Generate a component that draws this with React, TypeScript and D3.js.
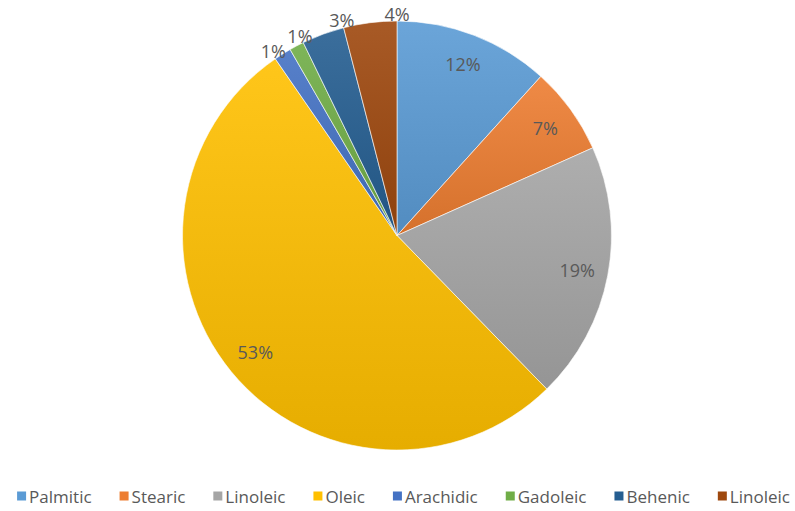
import React, { useMemo } from "react";
import * as d3 from "d3";

const categories = ["Palmitic", "Stearic", "Linoleic", "Oleic", "Arachidic", "Gadoleic", "Behenic", "Linoleic"];
const values = [11.7, 6.6, 19.4, 52.7, 1.3, 1.1, 3.2, 4.0];
const colors = ["#5B9BD5", "#ED7D31", "#A5A5A5", "#FFC000", "#4472C4", "#70AD47", "#255E91", "#9E480E"];

const W = 795;
const H = 511;
const FONT = "'Open Sans', 'Noto Sans', sans-serif";

function measure(text: string, size: number) {
  if (typeof document === "undefined") return text.length * size * 0.5;
  const c = document.createElement("canvas").getContext("2d")!;
  c.font = `${size}px 'Open Sans'`;
  return c.measureText(text).width;
}

export default function App() {
  const cx = 397;
  const cy = 235.5;
  const r = 214.5;
  const total = d3.sum(values);

  const arcs = useMemo(
    () =>
      d3
        .pie<number>()
        .sort(null)
        .value((d) => d)(values),
    []
  );
  const arcGen = d3.arc<d3.PieArcDatum<number>>().innerRadius(0).outerRadius(r);

  const labelSize = 18;
  const labelH = 15;
  const labels = arcs.map((a, i) => {
    const text = `${Math.round((values[i] / total) * 100)}%`;
    const w = measure(text, labelSize);
    const pct = values[i] / total;
    const outside = pct < 0.05;
    const ang = outside ? a.endAngle : (a.startAngle + a.endAngle) / 2;
    const rr = outside ? r + 7.5 : r * 0.855;
    return { text, w, outside, ang, rr, x: 0, y: 0 };
  });
  const pos = (ang: number, rr: number) => [cx + rr * Math.sin(ang), cy - rr * Math.cos(ang)];
  for (const l of labels) {
    const [x, y] = pos(l.ang, l.rr);
    l.x = x;
    l.y = y;
  }
  // resolve overlaps among outside labels: move earlier ones counter-clockwise
  for (let i = labels.length - 2; i >= 0; i--) {
    const l = labels[i];
    const n = labels[i + 1];
    if (!l.outside || !n.outside) continue;
    let guard = 0;
    while (
      Math.abs(l.x - n.x) < (l.w + n.w) / 2 &&
      Math.abs(l.y - n.y) < labelH &&
      guard++ < 200
    ) {
      l.ang -= Math.PI / 360;
      const [x, y] = pos(l.ang, l.rr);
      l.x = x;
      l.y = y;
    }
  }

  // legend layout
  const legSize = 17;
  const marker = 9;
  const gapText = 3;
  const gapItem = 28;
  const widths = categories.map((c) => measure(c, legSize));
  const itemW = widths.map((w) => marker + gapText + w);
  const totalLeg = d3.sum(itemW) + gapItem * (categories.length - 1);
  let lx = W / 2 - totalLeg / 2 + 6;
  const legendItems = categories.map((c, i) => {
    const x = lx;
    lx += itemW[i] + gapItem;
    return { c, x, color: colors[i] };
  });
  const legY = 496;

  return (
    <svg
      width={W}
      height={H}
      style={{ position: "fixed", left: 0, top: 0, background: "#fff" }}
      fontFamily={FONT}
    >
      <defs>
        {colors.map((c, i) => (
          <linearGradient key={i} id={`g${i}`} x1="0" y1="0" x2="0" y2="1">
            <stop offset="0" stopColor={d3.interpolateRgb(c, "#ffffff")(0.1)} />
            <stop offset="1" stopColor={d3.interpolateRgb(c, "#000000")(0.1)} />
          </linearGradient>
        ))}
      </defs>
      <g transform={`translate(${cx},${cy})`}>
        {arcs.map((a, i) => (
          <path key={i} d={arcGen(a) || ""} fill={`url(#g${i})`} stroke="#ffffff" strokeWidth={0.6} />
        ))}
      </g>
      {labels.map((l, i) => (
        <text
          key={i}
          x={l.x}
          y={l.y}
          textAnchor="middle"
          dominantBaseline="central"
          fontSize={labelSize}
          fill="#595959"
        >
          {l.text}
        </text>
      ))}
      {legendItems.map((it, i) => (
        <g key={i}>
          <rect x={it.x} y={legY - marker / 2} width={marker} height={marker} fill={it.color} />
          <text
            x={it.x + marker + gapText}
            y={legY}
            dominantBaseline="central"
            fontSize={legSize}
            fill="#595959"
          >
            {it.c}
          </text>
        </g>
      ))}
    </svg>
  );
}
